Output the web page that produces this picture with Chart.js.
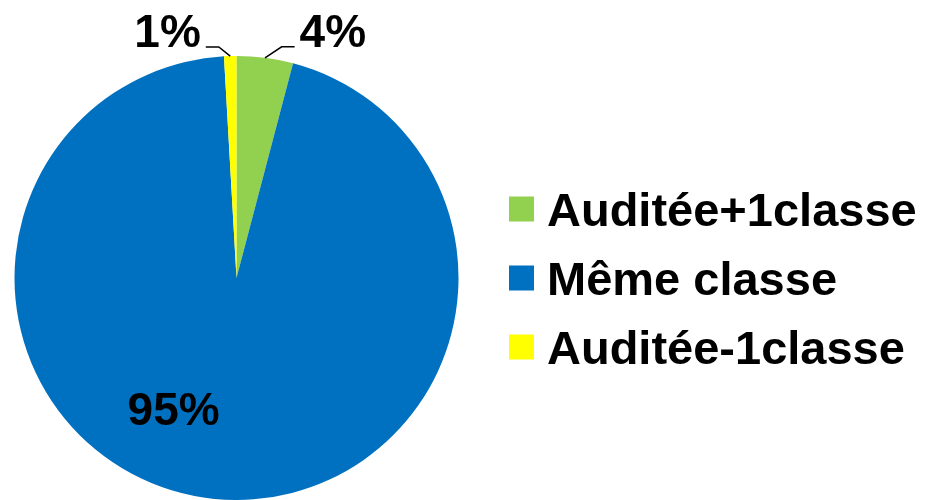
<!DOCTYPE html>
<html>
<head>
<meta charset="utf-8">
<script src="https://cdn.jsdelivr.net/npm/chart.js@4.4.0/dist/chart.umd.min.js"></script>
<style>
  body { margin: 0; background: #fff; }
  #wrap { width: 925px; height: 500px; position: relative; }
</style>
</head>
<body>
<div id="wrap"><canvas id="PIECHART"></canvas></div>
<script>
// data
var categories = ['Auditée+1classe', 'Même classe', 'Auditée-1classe'];
var shares = [4.1, 95.0, 0.9];
var colors = ['#92D050', '#0070C0', '#FFFF00'];

var FONT = '"Liberation Sans", Arial, sans-serif';

// where each percent label goes: angle from top (deg, clockwise), distance as fraction of radius
var labelPlace = [
    { angle: 21.3, dist: 1.195, leader: true },
    { angle: 205.7, dist: 0.653, leader: false },
    { angle: -15.6, dist: 1.155, leader: true }
];

var pieLabels = {
    id: 'pieLabels',
    afterDraw: function (chart) {
        var ctx = chart.ctx;
        var meta = chart.getDatasetMeta(0);
        var data = chart.data.datasets[0].data;
        var total = data.reduce((t, v) => t + v, 0);
        ctx.save();
        ctx.font = 'bold 46px ' + FONT;
        ctx.fillStyle = '#000';
        ctx.textAlign = 'center';
        ctx.textBaseline = 'alphabetic';
        meta.data.forEach(function (arc, i) {
            var cx = arc.x, cy = arc.y, r = arc.outerRadius;
            var p = labelPlace[i];
            var a = p.angle * Math.PI / 180;
            var lx = cx + Math.sin(a) * r * p.dist;
            var ly = cy - Math.cos(a) * r * p.dist;
            var txt = Math.round(data[i] / total * 100) + '%';
            var base = ly + 16;
            ctx.fillText(txt, lx, base);
            if (p.leader) {
                // leader line from slice edge to the label
                var mid = (arc.startAngle + arc.endAngle) / 2;
                var ex = cx + Math.cos(mid) * r;
                var ey = cy + Math.sin(mid) * r;
                var w = ctx.measureText(txt).width;
                var side = lx < cx ? 1 : -1;
                var hx0 = lx + side * (w / 2 + 5);
                var hx1 = hx0 + side * 13;
                ctx.beginPath();
                ctx.strokeStyle = '#000';
                ctx.lineWidth = 1.5;
                ctx.moveTo(hx0, base);
                ctx.lineTo(hx1, base);
                ctx.lineTo(ex, ey);
                ctx.stroke();
            }
        });

        // legend on the right
        ctx.font = 'bold 47px ' + FONT;
        ctx.textAlign = 'left';
        categories.forEach(function (name, i) {
            var yc = 209 + i * 69;
            ctx.fillStyle = colors[i];
            ctx.fillRect(509, yc - 12.5, 25, 25);
            ctx.fillStyle = '#000';
            ctx.fillText(name, 547, yc + 17);
        });
        ctx.restore();
    }
};

var ctx = document.getElementById('PIECHART').getContext('2d');
var myChart = new Chart(ctx, {
    type: 'pie',
    data: {
        labels: categories,
        datasets: [{
            data: shares,
            backgroundColor: colors,
            borderWidth: 0
        }]
    },
    options: {
        responsive: true,
        maintainAspectRatio: false,
        animation: false,
        layout: {
            padding: { left: 14, right: 466, top: 56, bottom: 0 }
        },
        plugins: {
            legend: { display: false },
            tooltip: { enabled: false }
        }
    },
    plugins: [pieLabels]
});
</script>
</body>
</html>
